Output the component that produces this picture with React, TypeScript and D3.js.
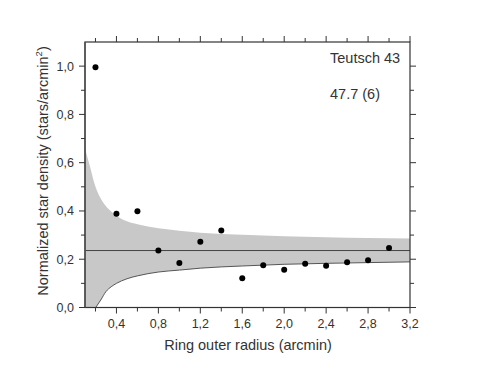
import React from 'react';
import * as d3 from 'd3';

// ring outer radius (arcmin) and normalized density of each ring
const radii = [0.2, 0.4, 0.6, 0.8, 1.0, 1.2, 1.4, 1.6, 1.8, 2.0, 2.2, 2.4, 2.6, 2.8, 3.0];
const density = [0.995, 0.388, 0.399, 0.236, 0.184, 0.272, 0.319, 0.121, 0.175, 0.156, 0.181, 0.173, 0.187, 0.196, 0.246];

// background level and its band
const meanDensity = 0.236;
const upperX = [0.1, 0.15, 0.2, 0.25, 0.3, 0.35, 0.4, 0.5, 0.6, 0.8, 1.0, 1.2, 1.6, 2.0, 2.4, 2.8, 3.2];
const upperY = [0.66, 0.58, 0.5, 0.452, 0.42, 0.398, 0.38, 0.357, 0.345, 0.328, 0.318, 0.31, 0.301, 0.295, 0.291, 0.288, 0.286];
const lowerX = [0.202, 0.25, 0.3, 0.35, 0.4, 0.5, 0.6, 0.8, 1.0, 1.2, 1.6, 2.0, 2.4, 2.8, 3.2];
const lowerY = [0, 0.031, 0.066, 0.086, 0.1, 0.119, 0.131, 0.147, 0.155, 0.163, 0.172, 0.179, 0.183, 0.186, 0.189];

const xMajor = [0.4, 0.8, 1.2, 1.6, 2.0, 2.4, 2.8, 3.2];
const xMinor = [0.2, 0.6, 1.0, 1.4, 1.8, 2.2, 2.6, 3.0];
const yMajor = [0, 0.2, 0.4, 0.6, 0.8, 1.0];
const yMinor = [0.1, 0.3, 0.5, 0.7, 0.9];

const clusterName = 'Teutsch 43';
const clusterNote = '47.7 (6)';

const W = 477, H = 369;
const left = 85, right = 410, top = 42, bottom = 307.5;
const font = '"Liberation Sans", Arial, sans-serif';
const ink = '#333';

export default function App() {
  const x = d3.scaleLinear().domain([0.1, 3.2]).range([left, right]);
  const y = d3.scaleLinear().domain([0, 1.1]).range([bottom, top]);
  const fmt = (v: number) => d3.format('.1f')(v).replace('.', ',');

  const upperArea = d3.area<number>()
    .x((d, i) => x(upperX[i]))
    .y0(y(0))
    .y1((d) => y(d))
    .curve(d3.curveMonotoneX);
  const lowerArea = d3.area<number>()
    .x((d, i) => x(lowerX[i]))
    .y0(y(0))
    .y1((d) => y(d))
    .curve(d3.curveMonotoneX);
  const lowerLine = d3.line<number>()
    .x((d, i) => x(lowerX[i]))
    .y((d) => y(d))
    .curve(d3.curveMonotoneX);

  const major = 6, minor = 4;

  return (
    <div style={{ position: 'absolute', left: 0, top: 0 }}>
      <svg width={W} height={H} style={{ display: 'block', background: '#fff' }}>
        <defs>
          <clipPath id="plot">
            <rect x={left} y={top} width={right - left} height={bottom - top} />
          </clipPath>
        </defs>
        <g clipPath="url(#plot)">
          <path d={upperArea(upperY) || ''} fill="#c8c8c8" />
          <path d={lowerArea(lowerY) || ''} fill="#fff" />
          <path d={lowerLine(lowerY) || ''} fill="none" stroke="#555" strokeWidth={1} />
          <line x1={left} x2={right} y1={y(meanDensity)} y2={y(meanDensity)} stroke="#444" strokeWidth={1} />
        </g>
        {radii.map((r, i) => (
          <circle key={r} cx={x(r)} cy={y(density[i])} r={3} fill="#000" />
        ))}

        {/* frame */}
        <rect x={left} y={top} width={right - left} height={bottom - top} fill="none" stroke="#333" strokeWidth={1.2} />
        <line x1={left} x2={left} y1={top} y2={bottom} stroke="#555" strokeWidth={1.6} />

        {/* x ticks, bottom and top */}
        {xMajor.map((v) => (
          <g key={'xM' + v}>
            <line x1={x(v)} x2={x(v)} y1={bottom} y2={bottom + major} stroke="#333" />
            <line x1={x(v)} x2={x(v)} y1={top} y2={top - major} stroke="#333" />
            <text x={x(v)} y={328} textAnchor="middle" fontFamily={font} fontSize={12.5} fill={ink}>{fmt(v)}</text>
          </g>
        ))}
        {xMinor.map((v) => (
          <g key={'xm' + v}>
            <line x1={x(v)} x2={x(v)} y1={bottom} y2={bottom + minor} stroke="#333" />
            <line x1={x(v)} x2={x(v)} y1={top} y2={top - minor} stroke="#333" />
          </g>
        ))}

        {/* y ticks, left and right */}
        {yMajor.map((v) => (
          <g key={'yM' + v}>
            <line x1={left} x2={left - major} y1={y(v)} y2={y(v)} stroke="#333" />
            <line x1={right} x2={right + major} y1={y(v)} y2={y(v)} stroke="#333" />
            <text x={74} y={y(v) + 4.5} textAnchor="end" fontFamily={font} fontSize={12.5} fill={ink}>{fmt(v)}</text>
          </g>
        ))}
        {yMinor.map((v) => (
          <g key={'ym' + v}>
            <line x1={left} x2={left - minor} y1={y(v)} y2={y(v)} stroke="#333" />
            <line x1={right} x2={right + minor} y1={y(v)} y2={y(v)} stroke="#333" />
          </g>
        ))}

        <text x={(left + right) / 2 + 0.5} y={350} textAnchor="middle" fontFamily={font} fontSize={14.5} fill={ink}>
          Ring outer radius (arcmin)
        </text>
        <text transform={`translate(48,${171}) rotate(-90)`} textAnchor="middle" fontFamily={font} fontSize={14.5} fill={ink}>
          Normalized star density (stars/arcmin<tspan dy={-6} fontSize={9.5}>2</tspan><tspan dy={6}>)</tspan>
        </text>

        <text x={330} y={63} fontFamily={font} fontSize={14.5} fill={ink}>{clusterName}</text>
        <text x={330} y={99} fontFamily={font} fontSize={14.5} fill={ink}>{clusterNote}</text>
      </svg>
    </div>
  );
}
